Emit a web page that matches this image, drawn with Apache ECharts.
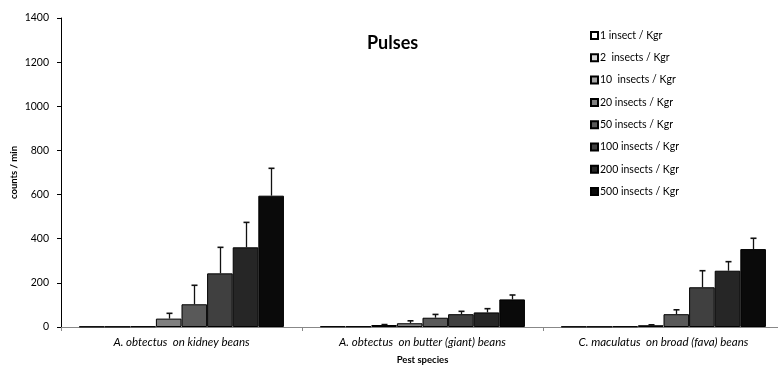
<!DOCTYPE html>
<html>
<head>
<meta charset="utf-8">
<script src="https://cdn.jsdelivr.net/npm/echarts@6/dist/echarts.min.js"></script>
<style>html,body{margin:0;padding:0;background:#fff}#c{width:778px;height:366px}</style>
</head>
<body>
<div id="c"></div>
<script>
var categories = ['A. obtectus  on kidney beans', 'A. obtectus  on butter (giant) beans', 'C. maculatus  on broad (fava) beans'];
var seriesNames = ['1 insect / Kgr', '2  insects / Kgr', '10  insects / Kgr', '20 insects / Kgr', '50 insects / Kgr', '100 insects / Kgr', '200 insects / Kgr', '500 insects / Kgr'];
var colors = ['#ffffff', '#d9d9d9', '#a6a6a6', '#7f7f7f', '#595959', '#404040', '#262626', '#0a0a0a'];
var v1 = [2, 3, 2];
var v2 = [2, 3, 2];
var v10 = [3, 9, 3];
var v20 = [38, 17, 8];
var v50 = [103, 42, 58];
var v100 = [243, 58, 180];
var v200 = [361, 66, 255];
var v500 = [595, 125, 353];
var e1 = [0, 0, 0];
var e2 = [0, 0, 0];
var e10 = [0, 2, 0];
var e20 = [24, 11, 2];
var e50 = [86, 15, 20];
var e100 = [118, 13, 75];
var e200 = [113, 17, 41];
var e500 = [124, 20, 49];
var yTicks = [0, 200, 400, 600, 800, 1000, 1200, 1400];

var values = [v1, v2, v10, v20, v50, v100, v200, v500];
var errors = [e1, e2, e10, e20, e50, e100, e200, e500];
var FONT = 'Lato';
var catGap = 0.15;

var series = seriesNames.map(function (n, i) {
  return {
    name: n, type: 'bar', data: values[i], barGap: '0%', barCategoryGap: '15%',
    itemStyle: { color: colors[i], borderColor: '#000', borderWidth: 1 },
    emphasis: { disabled: true }
  };
});
var errData = [];
values.forEach(function (arr, i) {
  arr.forEach(function (v, j) {
    if (errors[i][j] > 0) errData.push([j, v, errors[i][j], i]);
  });
});
series.push({
  type: 'custom', name: 'err', z: 10, silent: true,
  encode: { x: 0, y: 1 },
  data: errData,
  renderItem: function (params, api) {
    var j = api.value(0), v = api.value(1), e = api.value(2), i = api.value(3);
    var base = api.coord([j, v]);
    var top = api.coord([j, v + e]);
    var band = api.size([1, 0])[0];
    var gw = band * (1 - catGap);
    var bw = gw / 8;
    var cx = Math.round(base[0] - gw / 2 + (i + 0.5) * bw) + 0.5;
    var st = { stroke: '#111', lineWidth: 1.3 };
    return {
      type: 'group', children: [
        { type: 'line', shape: { x1: cx, y1: base[1], x2: cx, y2: top[1] }, style: st },
        { type: 'line', shape: { x1: cx - 3, y1: top[1], x2: cx + 3, y2: top[1] }, style: { stroke: '#111', lineWidth: 1.6 } }
      ]
    };
  }
});

var chart = echarts.init(document.getElementById('c'), null, { renderer: 'canvas' });
chart.setOption({
  animation: false,
  backgroundColor: '#fff',
  title: {
    text: 'Pulses', left: 362, top: 29,
    textStyle: { fontFamily: FONT, fontSize: 18, fontWeight: 'bold', color: '#000' }
  },
  legend: {
    orient: 'vertical', left: 585, top: 25,
    data: seriesNames, icon: 'rect', itemWidth: 7, itemHeight: 7, itemGap: 11.3,
    textStyle: { fontFamily: FONT, fontSize: 10.5, color: '#000', padding: [0, 0, 0, -3] },
    selectedMode: false
  },
  grid: { left: 61, top: 18, width: 723, height: 309, containLabel: false, outerBoundsMode: 'none' },
  xAxis: {
    type: 'category', data: categories,
    axisLine: { lineStyle: { color: '#888', width: 1 } },
    axisTick: { show: true, alignWithLabel: false, length: 4, lineStyle: { color: '#888' } },
    axisLabel: { fontFamily: FONT, fontSize: 11.5, fontStyle: 'italic', color: '#000', margin: 9, interval: 0 },
    name: 'Pest species', nameLocation: 'middle', nameGap: 28, nameMoveOverlap: false,
    nameTextStyle: { fontFamily: FONT, fontSize: 9.5, fontWeight: 'bold', color: '#000' }
  },
  yAxis: {
    type: 'value', min: yTicks[0], max: yTicks[yTicks.length - 1], interval: yTicks[1] - yTicks[0],
    splitLine: { show: false },
    axisLine: { show: true, lineStyle: { color: '#000', width: 1 } },
    axisTick: { show: true, length: 4, lineStyle: { color: '#000' } },
    axisLabel: { fontFamily: FONT, fontSize: 10.5, color: '#000', margin: 12, formatter: function (v) { return String(v); } },
    name: 'counts / min', nameLocation: 'middle', nameGap: 42, nameRotate: 90, nameMoveOverlap: false,
    nameTextStyle: { fontFamily: FONT, fontSize: 9.5, fontWeight: 'bold', color: '#000' }
  },
  series: series
});
</script>
</body>
</html>
